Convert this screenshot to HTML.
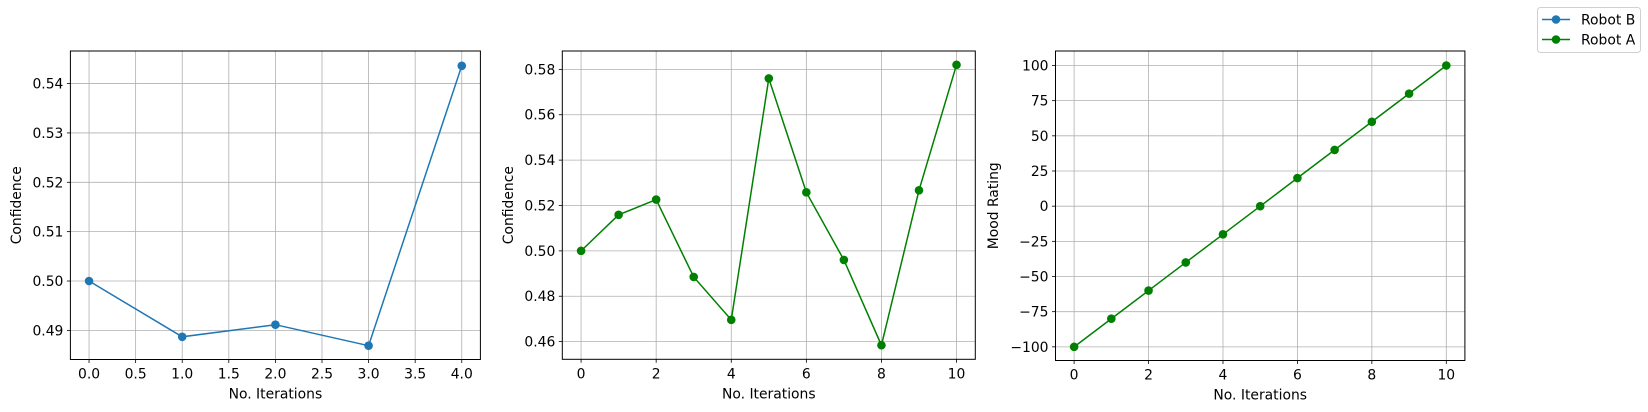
<!DOCTYPE html>
<html><head><meta charset="utf-8"><style>
html,body{margin:0;padding:0;background:#fff;}
svg{display:block;font-family:"DejaVu Sans","Liberation Sans",sans-serif;}
</style></head><body>
<svg id="fig" width="1648" height="412" viewBox="0 0 1648 412" xmlns="http://www.w3.org/2000/svg"></svg>
<script>
const xB = [0,1,2,3,4];
const robotB = [0.5,0.4887,0.49115,0.4869,0.5436];
const xA = [0,1,2,3,4,5,6,7,8,9,10];
const robotAConf = [0.5,0.5159,0.5226,0.4885,0.4696,0.576,0.5258,0.496,0.4584,0.5267,0.582];
const robotAMood = [-100,-80,-60,-40,-20,0,20,40,60,80,100];
const ticksX1 = [0,0.5,1,1.5,2,2.5,3,3.5,4];
const ticksLabX1 = ["0.0","0.5","1.0","1.5","2.0","2.5","3.0","3.5","4.0"];
const ticksY1 = [0.49,0.50,0.51,0.52,0.53,0.54];
const ticksX2 = [0,2,4,6,8,10];
const ticksY2 = [0.46,0.48,0.50,0.52,0.54,0.56,0.58];
const ticksY3 = [-100,-75,-50,-25,0,25,50,75,100];

const NS="http://www.w3.org/2000/svg";
const svg=document.getElementById('fig');
function mk(tag,attrs,parent){const e=document.createElementNS(NS,tag);for(const k in attrs)e.setAttribute(k,attrs[k]);(parent||svg).appendChild(e);return e;}

function panel(id,box,xd,yd,xt,xtl,yt,ytl,ylab,xs,ys,color){
  const g=mk('g',{});
  
  
  const sx=v=>box.l+(v-xd[0])/(xd[1]-xd[0])*(box.r-box.l);
  const sy=v=>box.b-(v-yd[0])/(yd[1]-yd[0])*(box.b-box.t);
  xt.forEach((t,i)=>{
    const x=sx(t);
    const gl=mk('line',{x1:x,x2:x,y1:box.t,y2:box.b,stroke:'#b0b0b0','stroke-width':0.8},g);
    
    
    mk('line',{x1:x,x2:x,y1:box.b,y2:box.b+3.5,stroke:'#000','stroke-width':0.8},g);
    const tx=mk('text',{x:x,y:box.b+19,'font-size':13.9,'text-anchor':'middle',fill:'#000'},g);
    
    
    tx.textContent=xtl[i];
  });
  yt.forEach((t,i)=>{
    const y=sy(t);
    const gl=mk('line',{x1:box.l,x2:box.r,y1:y,y2:y,stroke:'#b0b0b0','stroke-width':0.8},g);
    
    
    mk('line',{x1:box.l-3.5,x2:box.l,y1:y,y2:y,stroke:'#000','stroke-width':0.8},g);
    const ty=mk('text',{x:box.l-7,y:y+5,'font-size':13.9,'text-anchor':'end',fill:'#000'},g);
    
    
    ty.textContent=ytl[i];
  });
  const pts=xs.map((v,i)=>sx(v)+','+sy(ys[i])).join(' ');
  const pl=mk('polyline',{points:pts,fill:'none',stroke:color,'stroke-width':1.5},g);
  
  
  xs.forEach((v,i)=>{
    const c=mk('circle',{cx:sx(v),cy:sy(ys[i]),r:4.3,fill:color},g);
    
    
  });
  const fr=mk('rect',{x:box.l,y:box.t,width:box.r-box.l,height:box.b-box.t,fill:'none',stroke:'#000','stroke-width':1},g);
  
  
  const xl=mk('text',{x:(box.l+box.r)/2,y:box.b+39,'font-size':13.9,'text-anchor':'middle',fill:'#000'},g);
  
  
  xl.textContent='No. Iterations';
  const yx=box.ylx, yy=(box.t+box.b)/2;
  const yl=mk('text',{x:yx,y:yy,'font-size':13.9,'text-anchor':'middle',fill:'#000',transform:`rotate(-90 ${yx} ${yy})`},g);
  
  
  yl.textContent=ylab;
}
const f2=v=>v.toFixed(2);
panel('panel-robot-b-confidence',{l:70.4,r:480.4,t:51,b:359.5,ylx:21},[-0.2,4.2],[0.4841,0.5466],ticksX1,ticksLabX1,ticksY1,ticksY1.map(f2),'Confidence',xB,robotB,'#1f77b4');
panel('panel-robot-a-confidence',{l:562.3,r:975.3,t:51,b:359.3,ylx:513},[-0.5,10.5],[0.4522,0.5881],ticksX2,ticksX2.map(String),ticksY2,ticksY2.map(f2),'Confidence',xA,robotAConf,'green');
panel('panel-robot-a-mood',{l:1055.5,r:1464.9,t:51,b:360.5,ylx:998},[-0.5,10.5],[-109.7,110.3],ticksX2,ticksX2.map(String),ticksY3,ticksY3.map(v=>String(v).replace('-','\u2212')),'Mood Rating',xA,robotAMood,'green');

// legend
const lg=mk('g',{});


mk('rect',{x:1537.5,y:7.5,width:103,height:45,rx:3,fill:'#fff',stroke:'#d0d0d0','stroke-width':1},lg);
[['Robot B','#1f77b4',19.5],['Robot A','green',39.5]].forEach(([n,c,y])=>{
  const e=mk('g',{},lg);
  
  
  mk('line',{x1:1542,x2:1570,y1:y,y2:y,stroke:c,'stroke-width':1.5},e);
  mk('circle',{cx:1556,cy:y,r:4.3,fill:c},e);
  const t=mk('text',{x:1581,y:y+5,'font-size':13.9,fill:'#000'},e);
  t.textContent=n;
});
</script>
</body></html>
